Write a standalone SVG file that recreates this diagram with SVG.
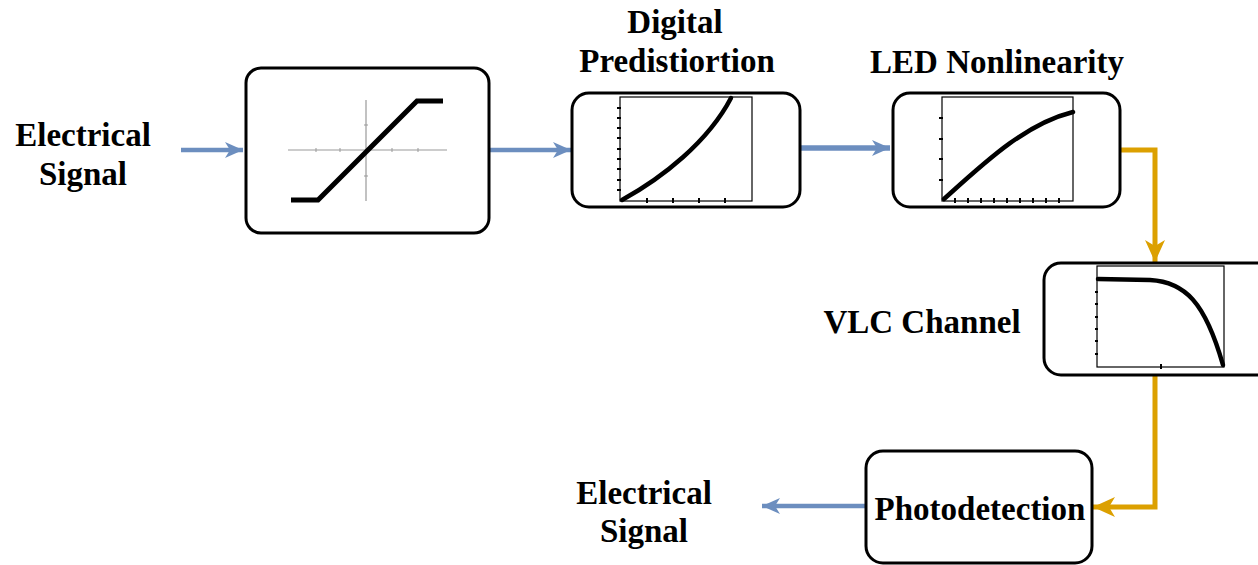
<svg xmlns="http://www.w3.org/2000/svg" width="1258" height="565" viewBox="0 0 1258 565">
<style>
.box{fill:#fff;stroke:#000;stroke-width:3}
.lbl{font-family:"Liberation Serif","Times New Roman",serif;font-weight:bold;font-size:33px;fill:#000;text-anchor:middle}
.frame{fill:none;stroke:#000;stroke-width:1.2}
.curve{fill:none;stroke:#000;stroke-width:4.5;stroke-linecap:round}
.tick{stroke:#000;stroke-width:2}
.axis{stroke:#999;stroke-width:1.2}
.blue{fill:none;stroke:#6c8ebf;stroke-width:4.5}
.orange{fill:none;stroke:#dca000;stroke-width:5}
</style>
<defs>
<marker id="ab" viewBox="0 0 20 20" refX="18" refY="10" markerWidth="20" markerHeight="20" orient="auto" markerUnits="userSpaceOnUse">
<path d="M0,2 L18,10 L0,18 L5,10 Z" fill="#6c8ebf"/>
</marker>
<marker id="ao" viewBox="0 0 24 24" refX="22" refY="12" markerWidth="24" markerHeight="24" orient="auto" markerUnits="userSpaceOnUse">
<path d="M0,2 L22,12 L0,22 L6,12 Z" fill="#dca000"/>
</marker>
</defs>

<g id="connectors">
<line class="blue" x1="181" y1="150" x2="243" y2="150" marker-end="url(#ab)"/>
<line class="blue" x1="489" y1="150" x2="571" y2="150" marker-end="url(#ab)"/>
<line class="blue" x1="800" y1="148" x2="890" y2="148" marker-end="url(#ab)" style="stroke-width:5.5"/>
<polyline class="orange" points="1120,150 1155,150 1155,262" marker-end="url(#ao)"/>
<polyline class="orange" points="1155,375 1155,507 1093,507" marker-end="url(#ao)"/>
<line class="blue" x1="866" y1="506" x2="762" y2="506" marker-end="url(#ab)"/>
</g>

<g id="input-label">
<text class="lbl" x="83" y="146">Electrical</text>
<text class="lbl" x="83" y="185">Signal</text>
</g>

<g id="limiter">
<rect class="box" x="246" y="68" width="243" height="165" rx="15"/>
<line class="axis" x1="288" y1="150" x2="447" y2="150"/>
<line class="axis" x1="366" y1="100" x2="366" y2="201"/>
<path class="tick" style="stroke:#999;stroke-width:1" d="M316,148v4M340,148v4M392,148v4M418,148v4M364,125h4M364,176h4"/>
<polyline points="291,200 318,200 417,101 443,101" fill="none" stroke="#000" stroke-width="5"/>
</g>

<g id="dpd">
<text class="lbl" x="675" y="33">Digital</text>
<text class="lbl" x="677" y="72">Predistiortion</text>
<rect class="box" x="572" y="93" width="228" height="114" rx="17"/>
<rect class="frame" x="620" y="97" width="132" height="104"/>
<path class="tick" d="M617,108h4M617,118h4M617,128h4M617,138h4M617,149h4M617,159h4M617,169h4M617,180h4M617,190h4M647,198v5M673,198v5M699,198v5M725,198v5"/>
<path class="curve" d="M622,200 C662,178 708,142 731,98"/>
</g>

<g id="led">
<text class="lbl" x="997" y="73">LED Nonlinearity</text>
<rect class="box" x="893" y="93" width="227" height="114" rx="17"/>
<rect class="frame" x="942" y="97" width="131" height="104"/>
<path class="tick" d="M939,118h4M939,139h4M939,159h4M939,180h4M955,198v5M968,198v5M981,198v5M994,198v5M1007,198v5M1020,198v5M1033,198v5M1046,198v5M1059,198v5"/>
<path class="curve" d="M944,199 C985,162 1025,124 1073,112"/>
</g>

<g id="vlc">
<text class="lbl" x="922" y="333">VLC Channel</text>
<rect class="box" x="1044" y="263" width="240" height="112" rx="17"/>
<rect class="frame" x="1097" y="266" width="127" height="101"/>
<path class="tick" d="M1095,292h3M1095,304h3M1095,317h3M1095,329h3M1095,341h3M1095,354h3M1161,364v5"/>
<path class="curve" d="M1098,279 L1150,280 C1185,282 1205,302 1223,365"/>
</g>

<g id="photodetection">
<rect class="box" x="866" y="451" width="226" height="112" rx="17"/>
<text class="lbl" x="980" y="520">Photodetection</text>
</g>

<g id="output-label">
<text class="lbl" x="644" y="504">Electrical</text>
<text class="lbl" x="644" y="542">Signal</text>
</g>
</svg>
